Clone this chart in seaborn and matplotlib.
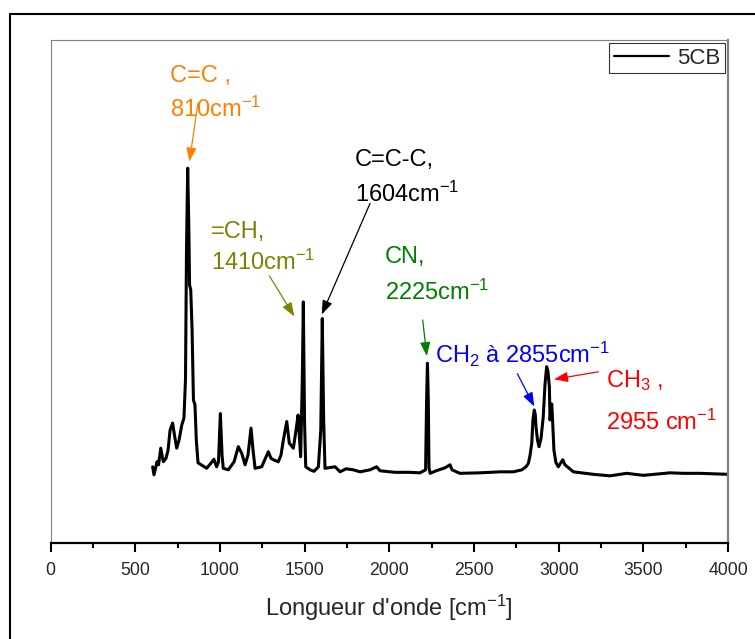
import matplotlib
matplotlib.use("Agg")
import matplotlib.pyplot as plt
from matplotlib.lines import Line2D
from matplotlib.ticker import MultipleLocator
import seaborn as sns
import pandas as pd

# ---- data ----
wavenumber = [602, 610, 628, 637, 650, 665, 681, 693, 705, 720, 731, 744, 758, 774, 787,
              796, 802, 809, 816, 820, 827, 835, 843, 852, 860, 870, 921, 953, 964, 980,
              991, 1002, 1012, 1019, 1049, 1083, 1108, 1128, 1148, 1165, 1183, 1195, 1207,
              1246, 1285, 1301, 1315, 1344, 1360, 1374, 1394, 1409, 1433, 1449, 1461, 1476,
              1486, 1492, 1499, 1506, 1532, 1555, 1581, 1595, 1604, 1612, 1620, 1680, 1709,
              1744, 1787, 1827, 1886, 1925, 1945, 2033, 2122, 2181, 2214, 2220, 2225, 2230,
              2234, 2241, 2276, 2329, 2358, 2370, 2417, 2536, 2654, 2732, 2783, 2807, 2821,
              2831, 2841, 2848, 2856, 2862, 2866, 2875, 2884, 2896, 2909, 2919, 2929, 2937,
              2945, 2949, 2954, 2959, 2964, 2972, 2984, 2998, 3024, 3037, 3087, 3205, 3303,
              3402, 3500, 3658, 3734, 3835, 4000]
intensity = [15.1, 13.5, 16.1, 15.5, 18.8, 16.1, 16.8, 18.4, 22.4, 23.8, 21.4, 18.8, 20.4, 23.4, 24.8,
             32.4, 58.2, 74.5, 62.2, 51.3, 50.3, 42.3, 28.4, 27.4, 20.4, 15.9, 14.8, 16.1, 16.6, 15.1,
             16.1, 25.7, 17.4, 14.8, 14.5, 16.1, 19.1, 17.8, 15.5, 17.4, 22.8, 18.4, 14.8,
             15.1, 18.1, 16.8, 16.5, 16.1, 17.4, 20.4, 24.1, 19.8, 18.8, 22.4, 25.4, 17.1,
             32.4, 47.9, 24.4, 15.1, 14.5, 14.2, 15.1, 22.4, 44.6, 24.4, 14.8, 15.1, 14.1,
             14.7, 14.5, 14.1, 14.5, 15.1, 14.3, 14.0, 14.0, 13.9, 14.5, 28.4, 35.7, 28.4,
             14.9, 13.8, 14.3, 14.9, 15.5, 14.5, 13.8, 13.9, 14.1, 14.1, 14.5, 15.1, 15.8,
             17.4, 19.8, 24.4, 26.4, 25.4, 23.1, 20.4, 19.1, 20.8, 25.1, 31.4, 35.0, 34.0,
             31.0, 24.4, 26.4, 27.6, 24.4, 18.4, 15.9, 15.1, 16.5, 15.5, 14.1, 13.6, 13.3,
             13.8, 13.4, 13.9, 13.8, 13.8, 13.6]

series_name = "5CB"
x_ticks = [0, 500, 1000, 1500, 2000, 2500, 3000, 3500, 4000]

# annotation labels: (line1, line2), colors, text anchors, arrow tail/head
ann_lines = [("C=C ,", "810cm$^{-1}$"),
             ("=CH,", "1410cm$^{-1}$"),
             ("C=C-C,", "1604cm$^{-1}$"),
             ("CN,", "2225cm$^{-1}$"),
             ("CH$_{2}$ à 2855cm$^{-1}$", None),
             ("CH$_{3}$ ,", "2955 cm$^{-1}$")]
ann_colors = ["#ff8000", "#808000", "#000000", "#008000", "#0000ff", "#ff0000"]
ann_text_x = [705, 945, 1797, 1974, 2270, 3280]
ann_text_y1 = [91.7, 60.6, 74.9, 55.6, 35.7, 30.9]
ann_text_y2 = [84.7, 54.2, 67.8, 48.3, None, 22.4]
arrow_tail = [(870, 87.5), (1291, 53.1), (1886, 67.5), (2197, 44.3), (2756, 33.6), (3234, 34.0)]
arrow_head = [(819, 75.8), (1439, 45.0), (1601, 45.4), (2221, 37.1), (2856, 27.1), (2972, 32.5)]

# ---- style ----
sns.set_style("white")
plt.rcParams["font.family"] = ["Liberation Sans", "DejaVu Sans"]
plt.rcParams["mathtext.default"] = "regular"

fig = plt.figure(figsize=(7.55, 6.39), dpi=100)
ax = fig.add_axes([50.7 / 755, 1 - 542.7 / 639, (728 - 50.7) / 755, (542.7 - 40) / 639])

df = pd.DataFrame({"x": wavenumber, "y": intensity})
sns.lineplot(data=df, x="x", y="y", ax=ax, color="black", lw=2.2, label=series_name,
             estimator=None, sort=False)

ax.set_xlim(0, 4000)
ax.set_ylim(0, 100)
ax.set_xticks(x_ticks)
ax.xaxis.set_minor_locator(MultipleLocator(250))
ax.set_yticks([])
ax.set_ylabel("")
ax.set_xlabel("Longueur d'onde [cm$^{-1}$]", fontsize=17, labelpad=10)
ax.tick_params(axis="x", which="major", direction="out", length=6.5, width=1.5,
               labelsize=12.7, pad=7.5, bottom=True, color="black")
ax.tick_params(axis="x", which="minor", direction="out", length=3.3, width=1.5,
               bottom=True, color="black")

for side in ["top", "left"]:
    ax.spines[side].set_color("#808080")
    ax.spines[side].set_linewidth(0.8)
ax.spines["right"].set_color("#808080")
ax.spines["right"].set_linewidth(1.6)
ax.spines["bottom"].set_color("black")
ax.spines["bottom"].set_linewidth(1.6)

leg = ax.legend(loc="upper right", fontsize=16, frameon=True, fancybox=False,
                borderaxespad=0.15, borderpad=0.2, handlelength=2.5, handletextpad=0.35)
leg.get_frame().set_edgecolor("black")
leg.get_frame().set_linewidth(0.8)
leg.get_lines()[0].set_linewidth(1.6)

for (l1, l2), c, tx, ty1, ty2, tail, head in zip(ann_lines, ann_colors, ann_text_x,
                                                  ann_text_y1, ann_text_y2, arrow_tail, arrow_head):
    ax.text(tx, ty1, l1, color=c, fontsize=17, ha="left", va="baseline")
    if l2 is not None:
        ax.text(tx, ty2, l2, color=c, fontsize=17, ha="left", va="baseline")
    ax.annotate("", xy=head, xytext=tail,
                arrowprops=dict(arrowstyle="-|>,head_length=0.6,head_width=0.22",
                                color=c, lw=0.9, mutation_scale=14, shrinkA=0, shrinkB=0))

# outer frame (left and top edges visible)
fx = 9.5 / 755
fy = 1 - 13.5 / 639
fig.add_artist(Line2D([fx, fx], [0, fy], transform=fig.transFigure, color="black", lw=1.5))
fig.add_artist(Line2D([fx, 1.0], [fy, fy], transform=fig.transFigure, color="black", lw=1.5))

fig.savefig("out.png", dpi=100)
